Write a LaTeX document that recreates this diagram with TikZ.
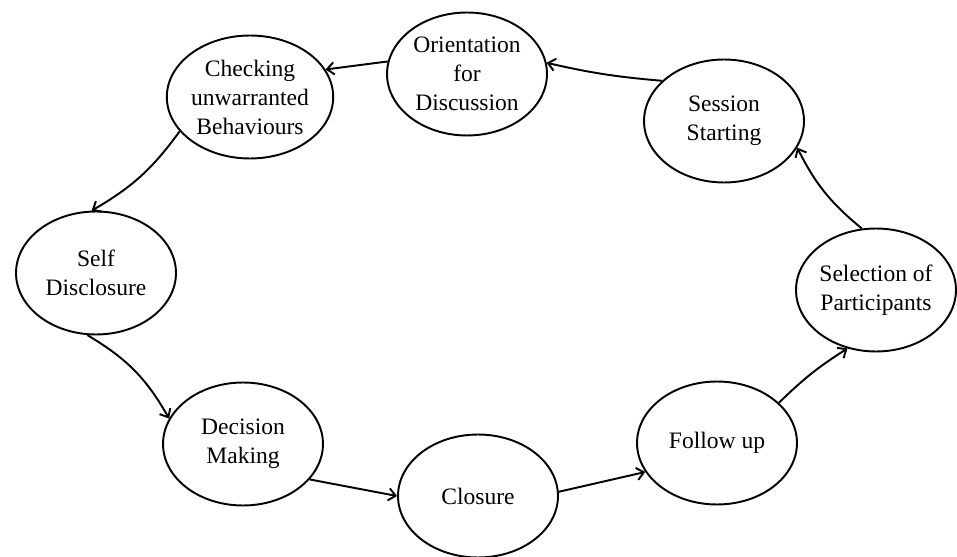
\documentclass[tikz,border=0pt]{standalone}
\usepackage{fontspec}
\setmainfont{Liberation Serif}
\usetikzlibrary{shapes.geometric, arrows.meta}

\begin{document}
\begin{tikzpicture}[x=0.02cm,y=-0.02cm,
  stage/.style={ellipse, draw, line width=1.1pt, inner sep=0pt,
    minimum width=3.2cm, minimum height=2.46cm, align=center,
    font=\fontsize{13.4}{16.5}\selectfont},
  flow/.style={line width=1.1pt, -{Straight Barb[length=4pt,width=7pt]}}]
\useasboundingbox (0,0) rectangle (957,557);

% The stages of the session, placed round the loop.
\node[stage] (orient) at (467,74)  {Orientation\\for\\Discussion};
\node[stage] (check)  at (250,97)  {Checking\\unwarranted\\Behaviours};
\node[stage] (sess)   at (724,121) {Session\\Starting};
\node[stage] (self)   at (96,273)  {Self\\Disclosure};
\node[stage] (select) at (876,290) {Selection of\\Participants};
\node[stage] (decide) at (243,444) {Decision\\Making};
\node[stage] (close)  at (478,496) {Closure};
\node[stage] (follow) at (717,443) {Follow up};

% The arrows go round from selection back to follow up.
\draw[flow] (select.103) to[bend left=12] (sess.340);
\draw[flow] (sess.147) to[bend left=4] (orient.8);
\draw[flow] (orient.171) to (check.20);
\draw[flow] (check.206) to[bend left=12] (self.94);
\draw[flow] (self.262) to[bend left=15] (decide.161);
\draw[flow] (decide.332) to (close.180);
\draw[flow] (close.3) to (follow.202);
\draw[flow] (follow.33) to[bend left=6] (select.244);
\end{tikzpicture}
\end{document}
